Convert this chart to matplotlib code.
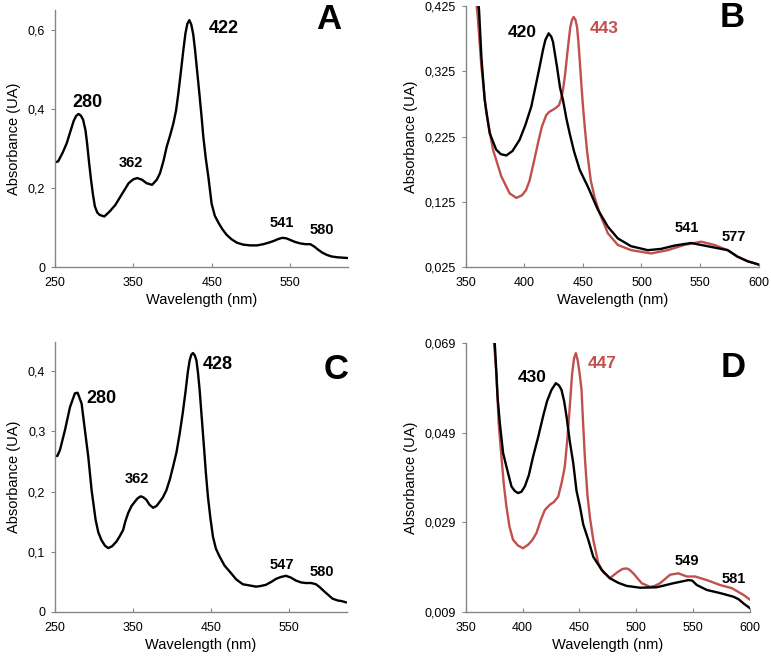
import matplotlib.pyplot as plt

plt.rcParams['font.family'] = ['Liberation Sans', 'DejaVu Sans']

RED = '#C0504D'
GRAY = '#868686'

# Panel A (wavelength nm, absorbance)
a_wl = [250, 254, 260, 265, 270, 274, 277, 280, 283, 286, 289, 291, 293.5, 296, 298.5,
        301, 304, 307, 313, 320, 327, 335, 344, 350, 355, 361, 367, 374, 380, 384,
        388.5, 392.6, 397, 401.1, 404.5, 407.5, 410.8, 413.9, 416.5, 419, 421.5, 424,
        426.5, 428.8, 431.5, 434.3, 437, 439.4, 442.5, 445.8, 450, 454, 459, 464, 469,
        475, 482, 490, 499, 508, 516, 523, 529, 535, 540, 545, 550, 556, 563, 570, 576,
        581, 586, 591, 597, 603, 610, 617, 624]
a_abs = [0.265, 0.267, 0.290, 0.313, 0.345, 0.370, 0.382, 0.387, 0.383, 0.372, 0.345,
         0.313, 0.265, 0.221, 0.183, 0.153, 0.138, 0.132, 0.128, 0.141, 0.157, 0.183,
         0.212, 0.222, 0.225, 0.221, 0.212, 0.208, 0.221, 0.237, 0.268, 0.304, 0.333,
         0.363, 0.395, 0.439, 0.495, 0.549, 0.590, 0.615, 0.624, 0.613, 0.588, 0.549,
         0.495, 0.439, 0.383, 0.329, 0.275, 0.228, 0.160, 0.130, 0.111, 0.095, 0.082,
         0.071, 0.062, 0.057, 0.055, 0.055, 0.058, 0.062, 0.066, 0.071, 0.074, 0.073,
         0.069, 0.064, 0.060, 0.058, 0.058, 0.052, 0.044, 0.037, 0.031, 0.027, 0.025,
         0.024, 0.023]

# Panel B, black
b1_wl = [358, 361.4, 363.4, 366.2, 370.5, 376, 380, 384.7, 390, 396, 401, 406, 410,
         413.1, 416, 418, 420.8, 423, 424.5, 427.9, 430.5, 433, 436, 438.7, 442.5, 447.3,
         454.3, 462.8, 471.3, 479.8, 491.2, 505.4, 516.8, 528.1, 542.3, 553.7, 565,
         573.6, 582, 590.6, 600]
b1_abs = [0.47, 0.419, 0.347, 0.281, 0.230, 0.205, 0.198, 0.196, 0.203, 0.220, 0.243,
          0.271, 0.305, 0.332, 0.358, 0.373, 0.383, 0.378, 0.370, 0.332, 0.300, 0.281,
          0.252, 0.230, 0.202, 0.174, 0.148, 0.113, 0.087, 0.069, 0.057, 0.051, 0.053,
          0.058, 0.062, 0.058, 0.054, 0.051, 0.041, 0.034, 0.029]
# Panel B, red
b2_wl = [357, 360.5, 363.4, 367.6, 373.3, 380.4, 387.5, 393.2, 398, 401.5, 404.6, 408,
         411.7, 415, 418.8, 421.5, 424.5, 427, 429.6, 431.5, 433, 434.8, 436.4, 438,
         439.3, 440.8, 442.1, 443.6, 445, 446.2, 447.3, 448.7, 450.1, 451.8, 453.5,
         456.7, 460, 464.2, 471.3, 479.8, 491.2, 508.2, 522.4, 536.6, 550.9, 562.2,
         573.6, 582, 590.6, 600]
b2_abs = [0.47, 0.404, 0.332, 0.261, 0.205, 0.164, 0.138, 0.131, 0.135, 0.143, 0.158,
          0.185, 0.215, 0.240, 0.258, 0.263, 0.266, 0.269, 0.273, 0.283, 0.296, 0.320,
          0.347, 0.373, 0.393, 0.404, 0.408, 0.404, 0.393, 0.370, 0.342, 0.305, 0.271,
          0.236, 0.204, 0.158, 0.132, 0.108, 0.077, 0.059, 0.051, 0.046, 0.051, 0.059,
          0.064, 0.059, 0.051, 0.041, 0.034, 0.029]

# Panel C
c_wl = [250, 253, 256.4, 262.8, 269.2, 275.5, 279, 284.1, 288.3, 292.6, 296.9, 302,
        305.5, 309.6, 314, 318.1, 323, 328.8, 333, 337.2, 340, 343.6, 348, 352.2, 356,
        359.8, 363.5, 367.1, 371, 375.6, 380, 384.1, 388, 392.6, 397, 401.1, 405.5,
        409.6, 413.5, 417.3, 420, 422.4, 424.5, 426.6, 429, 431, 433, 435.2, 438,
        440.7, 443.2, 445.8, 449, 452.2, 456, 460.7, 467, 475.6, 482, 490.4, 499,
        507.4, 513, 520, 527, 533, 539, 545.7, 552, 558.5, 565, 571.3, 578, 584, 589,
        594.7, 600, 605.3, 612, 617, 622.3]
c_abs = [0.259, 0.259, 0.269, 0.302, 0.340, 0.363, 0.364, 0.346, 0.302, 0.258, 0.202,
         0.153, 0.132, 0.119, 0.110, 0.106, 0.109, 0.117, 0.126, 0.136, 0.150, 0.164,
         0.176, 0.183, 0.189, 0.192, 0.190, 0.186, 0.178, 0.173, 0.176, 0.183, 0.190,
         0.202, 0.220, 0.241, 0.265, 0.296, 0.330, 0.368, 0.398, 0.418, 0.427, 0.430,
         0.426, 0.418, 0.398, 0.368, 0.320, 0.274, 0.230, 0.191, 0.155, 0.125, 0.105,
         0.092, 0.077, 0.064, 0.054, 0.046, 0.044, 0.042, 0.043, 0.045, 0.050, 0.055,
         0.058, 0.060, 0.057, 0.052, 0.049, 0.048, 0.048, 0.046, 0.041, 0.034, 0.028,
         0.022, 0.019, 0.018, 0.016]

# Panel D, black
d1_wl = [374.8, 376, 378, 380, 382.9, 385.8, 388.7, 390.2, 393, 396, 399, 402, 405.5,
         409.2, 413.7, 418, 421.5, 425.4, 429.2, 432, 434.2, 436.5, 438.6, 441.5, 444.5,
         447.4, 450.4, 453.3, 457.7, 462.1, 469.4, 476.8, 484, 491.5, 503.2, 517.9,
         532.5, 540, 545.7, 549, 553.1, 561.9, 573.6, 585.3, 590, 594.1, 600]
d1_abs = [0.072, 0.0670, 0.0570, 0.0511, 0.0444, 0.0414, 0.0385, 0.0370, 0.0360,
          0.0355, 0.0358, 0.0370, 0.0395, 0.0436, 0.0480, 0.0526, 0.0560, 0.0585,
          0.0600, 0.0595, 0.0585, 0.0560, 0.0526, 0.0470, 0.0422, 0.0360, 0.0325,
          0.0285, 0.0251, 0.0213, 0.0184, 0.0165, 0.0155, 0.0148, 0.0144, 0.0145,
          0.0154, 0.0158, 0.0161, 0.0160, 0.0150, 0.0139, 0.0132, 0.0124, 0.0118,
          0.0109, 0.0098]
# Panel D, red
d2_wl = [373.8, 375.5, 377, 379, 381.4, 383.5, 385.8, 388.5, 391.6, 396, 400.4, 404.9,
         408.5, 412.2, 416, 419.5, 423.9, 427.5, 431.3, 434.5, 437.1, 439.5, 441.5,
         443.5, 445.2, 446.8, 448.5, 450.2, 451.8, 453.2, 454.7, 457, 459.2, 462.1,
         466.5, 471, 476.8, 480, 484.1, 488, 491.5, 494, 497.3, 501, 504.7, 512, 516,
         520.8, 525, 529.6, 536.9, 544.3, 551.6, 561.9, 573.6, 583.9, 594.1, 600]
d2_abs = [0.072, 0.067, 0.0622, 0.0510, 0.0436, 0.0375, 0.0325, 0.0280, 0.0251,
          0.0238, 0.0232, 0.0240, 0.0250, 0.0266, 0.0295, 0.0317, 0.0329, 0.0335,
          0.0347, 0.0380, 0.0414, 0.0480, 0.0548, 0.0620, 0.0655, 0.0667, 0.0650,
          0.0620, 0.0585, 0.0510, 0.0436, 0.0350, 0.0300, 0.0251, 0.0199, 0.0178,
          0.0165, 0.0172, 0.0180, 0.0186, 0.0187, 0.0184, 0.0176, 0.0165, 0.0154,
          0.0146, 0.0148, 0.0154, 0.0163, 0.0173, 0.0176, 0.0169, 0.0169, 0.0161,
          0.0150, 0.0143, 0.0128, 0.0117]

fig = plt.figure(figsize=(7.71, 6.58), dpi=100)
axA = fig.add_axes([0.0713, 0.594, 0.380, 0.391])
axB = fig.add_axes([0.604, 0.594, 0.380, 0.397])
axC = fig.add_axes([0.0713, 0.070, 0.379, 0.410])
axD = fig.add_axes([0.604, 0.070, 0.369, 0.409])

LW = 1.7


def style(ax, xlim, ylim, xticks, yticks, ylabels):
    ax.set_xlim(*xlim)
    ax.set_ylim(*ylim)
    ax.set_xticks(xticks)
    ax.set_xticklabels([str(t) for t in xticks])
    ax.set_yticks(yticks)
    ax.set_yticklabels(ylabels)
    for s in ['top', 'right']:
        ax.spines[s].set_visible(False)
    for s in ['left', 'bottom']:
        ax.spines[s].set_color(GRAY)
        ax.spines[s].set_linewidth(1)
    ax.tick_params(axis='x', direction='in', length=3, color=GRAY, labelsize=9, pad=7)
    ax.tick_params(axis='y', direction='out', length=3, color=GRAY, labelsize=9, pad=4)
    ax.set_xlabel('Wavelength (nm)', fontsize=10.5, labelpad=3)
    ax.set_ylabel('Absorbance (UA)', fontsize=10.5, labelpad=5)


def lab(ax, x, y, s, size, color='black'):
    ax.text(x, y, s, fontsize=size, weight='bold', ha='center', va='center', color=color)


axA.plot(a_wl, a_abs, color='black', lw=LW)
style(axA, (250, 624), (0, 0.65), [250, 350, 450, 550], [0, 0.2, 0.4, 0.6],
      ['0', '0,2', '0,4', '0,6'])
lab(axA, 292, 0.417, '280', 13)
lab(axA, 347, 0.263, '362', 10.5)
lab(axA, 466, 0.602, '422', 13)
lab(axA, 540, 0.111, '541', 10.5)
lab(axA, 591, 0.094, '580', 10.5)
lab(axA, 600, 0.625, 'A', 25)

axB.plot(b2_wl, b2_abs, color=RED, lw=LW)
axB.plot(b1_wl, b1_abs, color='black', lw=LW)
style(axB, (350, 600), (0.025, 0.425), [350, 400, 450, 500, 550, 600],
      [0.025, 0.125, 0.225, 0.325, 0.425], ['0,025', '0,125', '0,225', '0,325', '0,425'])
lab(axB, 398.6, 0.385, '420', 12.5)
lab(axB, 467.8, 0.391, '443', 12.5, RED)
lab(axB, 538.6, 0.085, '541', 10.5)
lab(axB, 578.7, 0.071, '577', 10.5)
lab(axB, 577.8, 0.408, 'B', 25)

axC.plot(c_wl, c_abs, color='black', lw=LW)
style(axC, (250, 624), (0, 0.448), [250, 350, 450, 550], [0, 0.1, 0.2, 0.3, 0.4],
      ['0', '0,1', '0,2', '0,3', '0,4'])
lab(axC, 310, 0.355, '280', 13)
lab(axC, 354.7, 0.221, '362', 10.5)
lab(axC, 458, 0.411, '428', 13)
lab(axC, 541, 0.078, '547', 10.5)
lab(axC, 591, 0.066, '580', 10.5)
lab(axC, 610, 0.403, 'C', 25)

axD.plot(d2_wl, d2_abs, color=RED, lw=LW)
axD.plot(d1_wl, d1_abs, color='black', lw=LW)
style(axD, (350, 600), (0.009, 0.069), [350, 400, 450, 500, 550, 600],
      [0.009, 0.029, 0.049, 0.069], ['0,009', '0,029', '0,049', '0,069'])
lab(axD, 408, 0.0612, '430', 12.5)
lab(axD, 469.7, 0.0643, '447', 12.5, RED)
lab(axD, 544.5, 0.0204, '549', 10.5)
lab(axD, 585.9, 0.0164, '581', 10.5)
lab(axD, 584.9, 0.0634, 'D', 25)

fig.savefig('out.png', dpi=100)
